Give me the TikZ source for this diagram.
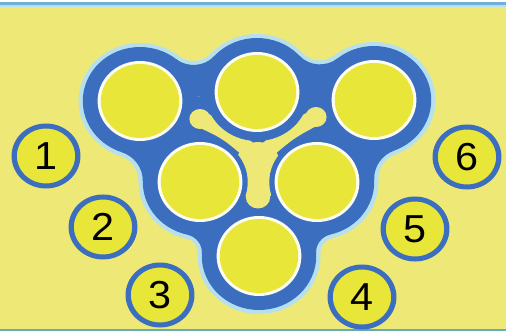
\documentclass[tikz,border=0pt]{standalone}
\usepackage{fontspec}
\setmainfont{Liberation Sans}
\usetikzlibrary{calc}
\definecolor{bg}{RGB}{238,233,118}
\definecolor{cy}{RGB}{232,230,56}
\definecolor{bl}{RGB}{60,110,192}
\definecolor{halo}{RGB}{182,224,238}
\definecolor{rim}{RGB}{252,252,240}
\definecolor{topline}{RGB}{112,176,214}
\definecolor{botline}{RGB}{100,172,186}
% #1,#2 = neighbouring centres, #3 = fillet radius, #4 = disc radius, #5 = colour
\newcommand\mkweb[5]{%
  \pgfmathsetmacro\fr{#3}%
  \path let \p1=(#1), \p2=(#2), \n1={veclen(\x2-\x1,\y2-\y1)/2},
    \n2={sqrt((#4+\fr)*(#4+\fr)-\n1*\n1)} in
    coordinate (F) at ($(#1)!0.5!(#2)!\n2!90:(#2)$);
  \fill[#5] let \p1=(#1), \p2=(#2), \p3=(F),
    \n3={atan2(\y1-\y3,\x1-\x3)}, \n4={atan2(\y2-\y3,\x2-\x3)},
    \n5={\n4-\n3}, \n6={\n5+360*(\n5 < -180)-360*(\n5 > 180)} in
    (#1) -- ($(F)!\fr pt!(#1)$) arc[start angle=\n3, delta angle=\n6, radius=\fr pt]
    -- (#2) -- cycle;}
\newcommand\mkbody[3]{% #1 disc radius, #2 fillet extra, #3 colour
  \fill[#3] (TL) -- (TM) -- (TR) -- (MR) -- (B) -- (ML) -- cycle;
  \foreach \c in {TL,TM,TR,ML,MR,B} {\fill[#3] (\c) circle (#1pt);}
  \mkweb{TL}{TM}{\fa+#2}{#1}{#3}
  \mkweb{TM}{TR}{\fa+#2}{#1}{#3}
  \mkweb{TR}{MR}{\fb+#2}{#1}{#3}
  \mkweb{MR}{B}{\fc+#2}{#1}{#3}
  \mkweb{B}{ML}{\fc+#2}{#1}{#3}
  \mkweb{ML}{TL}{\fb+#2}{#1}{#3}}
\begin{document}
\begin{tikzpicture}
\useasboundingbox (0pt,0pt) rectangle (506pt,-334pt);
\fill[white] (0pt,0pt) rectangle (506pt,-334pt);
\fill[bg] (0pt,-2pt) rectangle (506pt,-331pt);
\fill[halo] (0pt,-2pt) rectangle (506pt,-7.5pt);
\fill[topline] (0pt,-2.5pt) rectangle (506pt,-5.5pt);
\fill[botline] (0pt,-328.5pt) rectangle (506pt,-331pt);
\begin{scope}[transform canvas={xscale=1.06}, x=0.9434pt, y=-1pt,
  numc/.style={circle, draw=bl, line width=5pt, fill=cy, minimum size=60pt,
    inner sep=0pt, font=\fontsize{39}{39}\selectfont}]
  \def\fa{26}\def\fb{30}\def\fc{18}
  \coordinate (TL) at (140,101);
  \coordinate (TM) at (257,92);
  \coordinate (TR) at (374,100);
  \coordinate (ML) at (200,182);
  \coordinate (MR) at (317,182);
  \coordinate (B) at (259,256);
  % body: halo then blue
  \mkbody{58}{-4}{halo}
  \mkbody{54}{0}{bl}
  % inner Y-shaped opening
  \fill[bg] (200,119) circle (10pt);
  \fill[bg] (316,117) circle (10pt);
  \draw[bg, line width=16pt, line cap=round] (200,119) .. controls (228,132) .. (258,158);
  \draw[bg, line width=16pt, line cap=round] (316,117) .. controls (288,132) .. (258,158);
  \fill[bg] (258,162) circle (20pt);
  \draw[bg, line width=24pt] (258,160) -- (258,196);
  \fill[bg] (258,197) circle (11.5pt);
  \fill[bl] (TL) circle (47pt);
  \fill[bl] (TM) circle (49pt);
  \fill[bl] (TR) circle (47pt);
  \fill[bl] (ML) circle (45pt);
  \fill[bl] (MR) circle (45pt);
  \fill[bl] (B) circle (47pt);
  % large circles
  \foreach \c in {TL,TM,TR,ML,MR,B} {
    \fill[rim] (\c) circle (40pt);
    \fill[cy] (\c) circle (37pt);
  }
  % numbered circles
  \node[numc] (n1) at (46,156) {1};
  \node[numc] (n2) at (103,227) {2};
  \node[numc] (n3) at (160,295) {3};
  \node[numc] (n4) at (362,297) {4};
  \node[numc] (n5) at (415,229) {5};
  \node[numc] (n6) at (467,157) {6};
\end{scope}
\end{tikzpicture}
\end{document}
